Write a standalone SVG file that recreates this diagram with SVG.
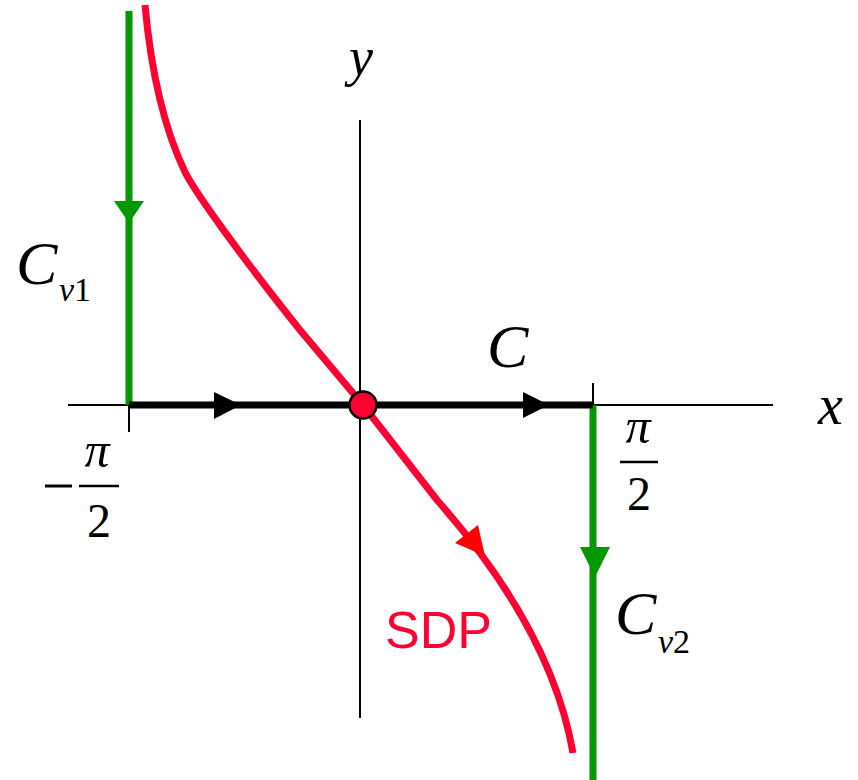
<svg xmlns="http://www.w3.org/2000/svg" width="858" height="780" viewBox="0 0 858 780">
<style>
.axis{stroke:#000;stroke-width:2;fill:none}
.thick{stroke:#000;stroke-width:7;fill:none}
.green{stroke:#009900;stroke-width:7;fill:none}
.red{stroke:#ff0033;stroke-width:7;fill:none}
.it{font-family:"Liberation Serif","Times New Roman",serif;font-style:italic;fill:#000}
.rm{font-family:"Liberation Serif","Times New Roman",serif;fill:#000}
.sdp{font-family:"Liberation Sans",Arial,sans-serif;fill:#ff0033}
</style>
<rect width="858" height="780" fill="#fff"/>
<g id="axes">
<line class="axis" x1="68" y1="405" x2="773" y2="405"/>
<line class="axis" x1="360" y1="120" x2="360" y2="718"/>
<line class="axis" x1="129" y1="405" x2="129" y2="432"/>
<line class="axis" x1="593" y1="383" x2="593" y2="405"/>
</g>
<g id="connectors">
<g id="Cv1">
<line class="green" x1="129" y1="11" x2="129" y2="405"/>
<polygon points="114,201 144,201 129,223" fill="#009900"/>
</g>
<g id="Cv2">
<line class="green" x1="593" y1="405" x2="593" y2="780"/>
<polygon points="580,547 610,547 595,577" fill="#009900"/>
</g>
<g id="C">
<line class="thick" x1="129" y1="405" x2="593" y2="405"/>
<polygon points="214,392 214,419 241,405" fill="#000"/>
<polygon points="523,392 523,418 549,405" fill="#000"/>
</g>
<g id="SDP">
<path class="red" d="M145,5 C150,60 160,120 185,172 C195,192 240,255 300,330 L363,405 L437,500 C490,560 555,650 573,753"/>
<polygon points="485,556 455,543 478,525" fill="#ff0000"/>
</g>
</g>
<g id="origin">
<circle cx="363" cy="405" r="13.5" fill="#ff0033" stroke="#000" stroke-width="2.5"/>
</g>
<g id="labels">
<text class="it" x="349" y="75" font-size="54">y</text>
<text class="it" x="818" y="424" font-size="56">x</text>
<text class="it" x="487" y="367" font-size="62">C</text>
<text x="16" y="284" font-size="62"><tspan class="it">C</tspan><tspan class="it" x="59" y="301" font-size="34">v</tspan><tspan class="rm" font-size="34">1</tspan></text>
<text x="615" y="634" font-size="62"><tspan class="it">C</tspan><tspan class="it" x="658" y="653" font-size="34">v</tspan><tspan class="rm" font-size="34">2</tspan></text>
<g id="minus-pi-half">
<line x1="45" y1="486" x2="72" y2="486" stroke="#000" stroke-width="3"/>
<line x1="79" y1="486" x2="119" y2="486" stroke="#000" stroke-width="2.5"/>
<text class="it" x="97" y="467" font-size="50" text-anchor="middle">π</text>
<text class="rm" x="99" y="537" font-size="48" text-anchor="middle">2</text>
</g>
<g id="pi-half">
<line x1="620" y1="462" x2="658" y2="462" stroke="#000" stroke-width="2.5"/>
<text class="it" x="638" y="443" font-size="50" text-anchor="middle">π</text>
<text class="rm" x="639" y="510" font-size="48" text-anchor="middle">2</text>
</g>
<text class="sdp" x="385" y="648" font-size="52">SDP</text>
</g>
</svg>
